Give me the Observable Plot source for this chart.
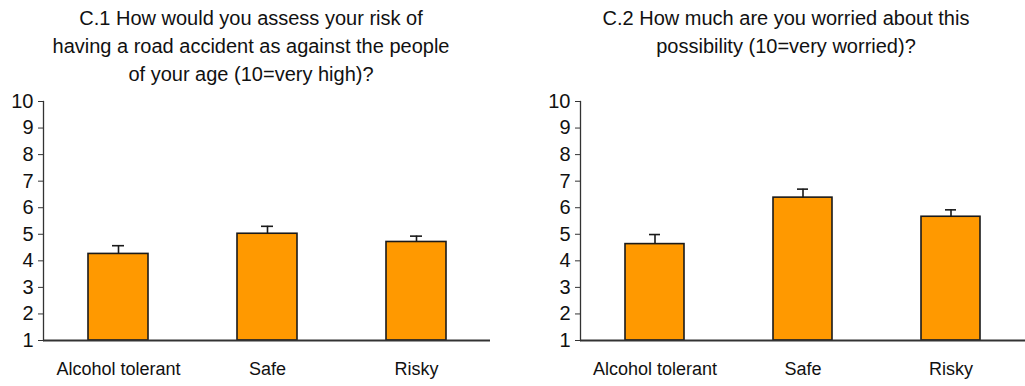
<!DOCTYPE html>
<html>
<head>
<meta charset="utf-8">
<script src="https://cdn.jsdelivr.net/npm/d3@7"></script>
<script src="https://cdn.jsdelivr.net/npm/@observablehq/plot@0.6"></script>
<style>
  html, body { margin: 0; padding: 0; background: #fff; }
  body { width: 1025px; height: 386px; overflow: hidden; font-family: "Liberation Sans", Arial, sans-serif; }
  #wrap { display: flex; flex-direction: row; }
  .col { display: flex; flex-direction: column; }
  .title { height: 90px; box-sizing: border-box; padding-top: 4px; font-size: 20px; line-height: 28px; color: #111; text-align: center; white-space: nowrap; }
  svg { display: block; }
</style>
</head>
<body>
<div id="wrap">
  <div class="col" id="left" style="width:512px">
    <div class="title" style="padding-right:10px">C.1 How would you assess your risk of<br>having a road accident as against the people<br>of your age (10=very high)?</div>
  </div>
  <div class="col" id="right" style="width:513px">
    <div class="title" style="padding-left:35px">C.2 How much are you worried about this<br>possibility (10=very worried)?</div>
  </div>
</div>
<script>
const categories = ["Alcohol tolerant", "Safe", "Risky"];
const riskValues = [4.26, 5.02, 4.71];
const riskUpper = [4.57, 5.30, 4.93];
const worryValues = [4.63, 6.38, 5.66];
const worryUpper = [4.99, 6.70, 5.92];
const yTicks = [1, 2, 3, 4, 5, 6, 7, 8, 9, 10];
const baseValue = 1;

function makeChart(values, upper, width, marginLeft, marginRight) {
  const data = categories.map((c, i) => ({cat: c, value: values[i], upper: upper[i]}));
  return Plot.plot({
    width,
    height: 296,
    marginTop: 11,
    marginBottom: 46,
    marginLeft,
    marginRight,
    style: {fontFamily: "'Liberation Sans', Arial, sans-serif", fontSize: "18px", color: "#111", background: "#fff", overflow: "visible"},
    x: {domain: categories, paddingInner: 0.6, paddingOuter: 0.297, label: null},
    y: {domain: [1, 10], label: null},
    marks: [
      Plot.barY(data, {x: "cat", y1: baseValue, y2: "value", fill: "#FF9900", stroke: "#1a1a1a", strokeWidth: 1.6}),
      Plot.ruleX(data, {x: "cat", y1: "value", y2: "upper", stroke: "#1a1a1a", strokeWidth: 1.6}),
      Plot.tickY(data, {x: "cat", y: "upper", stroke: "#1a1a1a", strokeWidth: 1.6, insetLeft: 24, insetRight: 24}),
      Plot.ruleY([baseValue], {stroke: "#333", strokeWidth: 2}),
      Plot.frame({anchor: "left", stroke: "#333", strokeWidth: 1.3}),
      Plot.axisY({ticks: yTicks, tickSize: 5, tickPadding: 5, stroke: "#333", fill: "#111", fontSize: 20, label: null, tickFormat: d => String(d)}),
      Plot.axisX({tickSize: 0, tickPadding: 22, fill: "#111", fontSize: 18, label: null})
    ]
  });
}

document.getElementById("left").appendChild(makeChart(riskValues, riskUpper, 512, 43, 22));
document.getElementById("right").appendChild(makeChart(worryValues, worryUpper, 513, 68, 0));
</script>
</body>
</html>
